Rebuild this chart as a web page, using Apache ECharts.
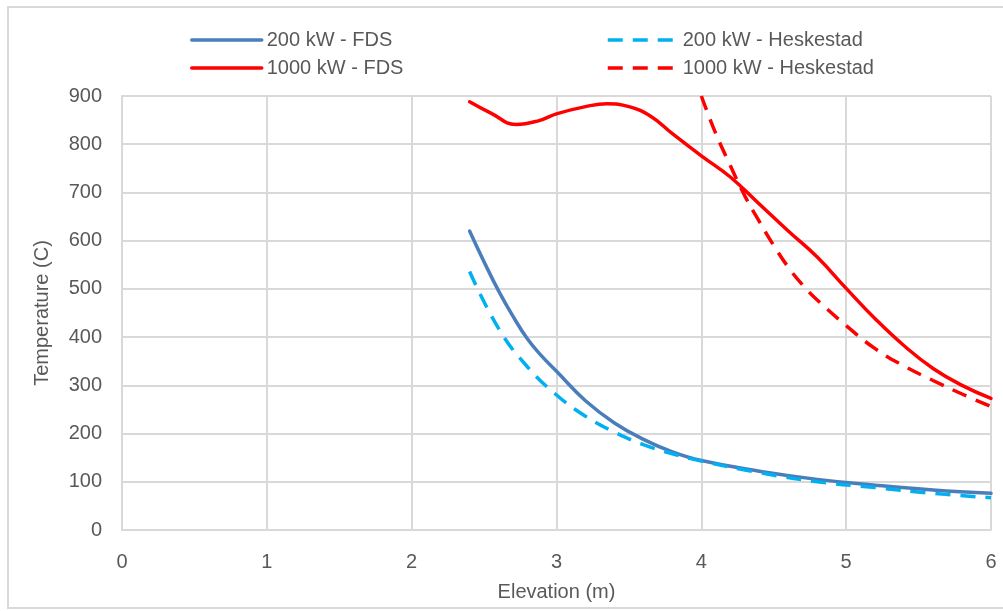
<!DOCTYPE html>
<html>
<head>
<meta charset="utf-8">
<script src="https://cdn.jsdelivr.net/npm/echarts@6/dist/echarts.min.js"></script>
<style>html,body{margin:0;padding:0;background:#fff}#c{width:1003px;height:611px}</style>
</head>
<body>
<div id="c"></div>
<script>
// Data
var seriesNames = ['200 kW - FDS', '1000 kW - FDS', '200 kW - Heskestad', '1000 kW - Heskestad'];

var xFds200 = [2.4, 2.5, 2.6, 2.7, 2.8, 2.9, 3.0, 3.2, 3.4, 3.6, 3.8, 4.0, 4.4, 4.8, 5.2, 5.6, 6.0];
var yFds200 = [620, 556, 496, 443, 396, 360, 329, 268, 222, 188, 162, 144, 122, 105, 93, 83, 76];

var xHes200 = [2.4, 2.6, 2.8, 3.0, 3.2, 3.4, 3.6, 3.8, 4.0, 4.4, 4.8, 5.2, 5.6, 6.0];
var yHes200 = [536, 418, 338, 280, 236, 203, 177, 158, 143, 119, 100, 88, 76, 67];

var xFds1000 = [2.4, 2.55, 2.72, 2.88, 3.0, 3.2, 3.35, 3.5, 3.65, 3.8, 4.0, 4.2, 4.4, 4.6, 4.8, 5.0, 5.2, 5.4, 5.6, 5.8, 6.0];
var yFds1000 = [888, 864, 841, 849, 863, 878, 884, 878, 858, 822, 776, 732, 676, 620, 566, 501, 438, 382, 335, 300, 273];

var xHes1000 = [4.0, 4.1, 4.2, 4.3, 4.4, 4.5, 4.6, 4.7, 4.8, 5.0, 5.2, 5.4, 5.6, 5.8, 6.0];
var yHes1000 = [900, 822, 756, 693, 640, 590, 545, 508, 477, 424, 376, 340, 310, 282, 256];

var xTicks = [0, 1, 2, 3, 4, 5, 6];
var yTicks = [0, 100, 200, 300, 400, 500, 600, 700, 800, 900];

function zip(xs, ys) { return xs.map(function (x, i) { return [x, ys[i]]; }); }

var FONT = 'Liberation Sans';
var TXT = '#595959';
var GRIDC = '#d9d9d9';

var chart = echarts.init(document.getElementById('c'), null, {renderer: 'canvas'});
function lineSeries(name, data, color, dashed) {
  return {
    name: name, type: 'line', data: data, smooth: 0.45, symbol: 'none', showSymbol: false,
    clip: true,
    lineStyle: dashed ? {color: color, width: 3.5, type: [15, 10]} : {color: color, width: 3.5, cap: 'round'},
    itemStyle: {color: color},
    emphasis: {disabled: true}, animation: false
  };
}
var legendCommon = {
  orient: 'vertical', top: 25, itemWidth: 70, itemHeight: 20, itemGap: 8,
  itemStyle: {opacity: 0, borderWidth: 0},
  lineStyle: {width: 3.5},
  textStyle: {color: TXT, fontFamily: FONT, fontSize: 20, lineHeight: 20}
};
chart.setOption({
  animation: false,
  backgroundColor: '#fff',
  graphic: [{
    type: 'rect', shape: {x: 8, y: 7, width: 1010, height: 601},
    style: {fill: 'none', stroke: GRIDC, lineWidth: 2}, silent: true
  }],
  grid: {left: 122, right: 12, top: 96, bottom: 81, containLabel: false},
  legend: [
    Object.assign({data: [seriesNames[0], seriesNames[1]], left: 185}, legendCommon),
    Object.assign({data: [seriesNames[2], seriesNames[3]], left: 601}, legendCommon)
  ],
  xAxis: {
    type: 'value', min: xTicks[0], max: xTicks[xTicks.length - 1], interval: 1,
    name: 'Elevation (m)', nameLocation: 'middle', nameGap: 52,
    nameTextStyle: {color: TXT, fontFamily: FONT, fontSize: 20},
    axisLine: {show: true, lineStyle: {color: GRIDC, width: 2}},
    axisTick: {show: false},
    axisLabel: {color: TXT, fontFamily: FONT, fontSize: 20, margin: 22},
    splitLine: {show: true, lineStyle: {color: GRIDC, width: 2}}
  },
  yAxis: {
    type: 'value', min: yTicks[0], max: yTicks[yTicks.length - 1], interval: 100,
    name: 'Temperature (C)', nameLocation: 'middle', nameGap: 70,
    nameTextStyle: {color: TXT, fontFamily: FONT, fontSize: 20},
    axisLine: {show: true, lineStyle: {color: GRIDC, width: 2}},
    axisTick: {show: false},
    axisLabel: {color: TXT, fontFamily: FONT, fontSize: 20, margin: 20},
    splitLine: {show: true, lineStyle: {color: GRIDC, width: 2}}
  },
  series: [
    lineSeries(seriesNames[0], zip(xFds200, yFds200), '#4a7ebb', false),
    lineSeries(seriesNames[1], zip(xFds1000, yFds1000), '#ff0000', false),
    lineSeries(seriesNames[2], zip(xHes200, yHes200), '#00b0f0', true),
    lineSeries(seriesNames[3], zip(xHes1000, yHes1000), '#ff0000', true)
  ]
});
</script>
</body>
</html>
